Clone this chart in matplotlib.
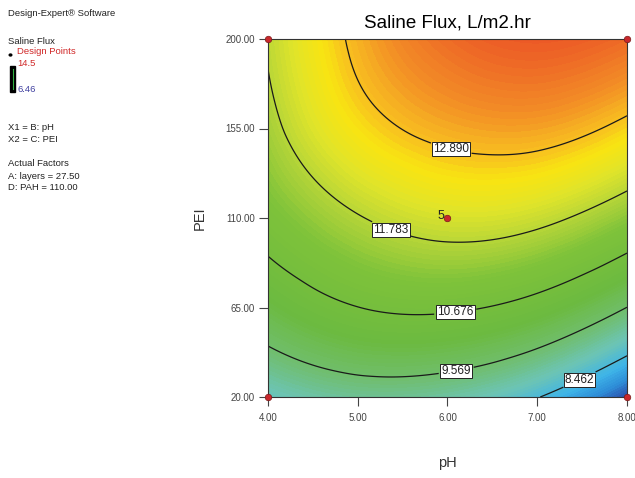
import numpy as np
import matplotlib
matplotlib.use("Agg")
import matplotlib.pyplot as plt
import matplotlib.tri as mtri
from matplotlib.colors import LinearSegmentedColormap, Normalize
from matplotlib.patches import Rectangle, Circle

plt.rcParams['font.family'] = ['Liberation Sans', 'DejaVu Sans']

# Factores (pH y PEI) y respuesta
ph = [4.0, 5.0, 6.0, 7.0, 8.0]
pei = [20.0, 65.0, 110.0, 155.0, 200.0]
# filas = PEI (20 -> 200), columnas = pH (4 -> 8)
flux = [
    [8.784, 9.160, 9.062, 8.490, 7.444],
    [10.087, 10.667, 10.773, 10.405, 9.563],
    [11.030, 11.740, 12.100, 11.960, 11.322],
    [11.580, 12.601, 13.080, 13.155, 12.721],
    [11.836, 13.028, 13.746, 13.990, 13.760],
]
niveles = [8.462, 9.569, 10.676, 11.783, 12.890]
etiquetas = ['8.462', '9.569', '10.676', '11.783', '12.890']
pos_etiquetas = [(7.42, 33.6), (6.08, 37.6), (6.08, 65.3), (5.38, 105.0), (6.05, 146.7)]
rango_color = (6.46, 14.5)

puntos_ph = [4.0, 8.0, 4.0, 8.0, 6.0]
puntos_pei = [20.0, 20.0, 200.0, 200.0, 110.0]

# Colores estilo Design-Expert (azul -> verde -> amarillo -> rojo)
anclas = [
    (6.46, '#141E78'), (7.45, '#2A4AA8'), (7.9, '#2E8ED8'), (8.3, '#3EB4E8'),
    (8.9, '#6CC4B4'), (9.5, '#70BE70'), (10.2, '#6CBA40'), (11.2, '#7EC23A'),
    (11.8, '#B8D638'), (12.2, '#E0E42A'), (12.6, '#F8E412'), (12.9, '#F8C020'),
    (13.4, '#F28A26'), (14.0, '#EC5A26'), (14.5, '#E03A1E'),
]
lo, hi = rango_color
cmap = LinearSegmentedColormap.from_list(
    'dx', [((v - lo) / (hi - lo), c) for v, c in anclas])

# Malla en coordenadas de indice para que la interpolacion sea isotropa
Z = np.array(flux)
U, V = np.meshgrid(np.arange(len(ph)), np.arange(len(pei)))
tri = mtri.Triangulation(U.ravel(), V.ravel())
interp = mtri.CubicTriInterpolator(tri, Z.ravel(), kind='min_E')
refiner = mtri.UniformTriRefiner(tri)
tri_f, z_f = refiner.refine_field(Z.ravel(), triinterpolator=interp, subdiv=5)
dph = ph[1] - ph[0]
dpei = pei[1] - pei[0]
tri_real = mtri.Triangulation(ph[0] + tri_f.x * dph, pei[0] + tri_f.y * dpei, tri_f.triangles)

fig = plt.figure(figsize=(6.35, 4.78), dpi=100)
ax = fig.add_axes([268 / 635, 1 - 397 / 478, 359 / 635, 358 / 478])

ax.tricontourf(tri_real, z_f, levels=np.linspace(lo, hi, 120), cmap=cmap,
               norm=Normalize(lo, hi))
cs = ax.tricontour(tri_real, z_f, levels=niveles, colors='#1a1a1a', linewidths=0.9)
textos = ax.clabel(cs, fmt=dict(zip(niveles, etiquetas)), manual=pos_etiquetas,
                   inline=True, fontsize=8.5, inline_spacing=3)
for t in textos:
    t.set_rotation(0)
    t.set_color('#222222')
    t.set_bbox(dict(facecolor='white', edgecolor='#222222', pad=0.8, linewidth=0.7))

# Puntos de diseno
ax.scatter(puntos_ph, puntos_pei, s=22, color='#C8282C', edgecolor='#7a1a1a',
           linewidth=0.5, zorder=5, clip_on=False)
ax.text(puntos_ph[-1] - 0.04, puntos_pei[-1] + 1, '5', ha='right', va='center',
        fontsize=9, color='#222222')

ax.set_xlim(ph[0], ph[-1])
ax.set_ylim(pei[0], pei[-1])
ax.set_xticks(ph)
ax.set_xticklabels([f'{v:.2f}' for v in ph])
ax.set_yticks(pei)
ax.set_yticklabels([f'{v:.2f}' for v in pei])
ax.tick_params(direction='out', length=6.5, width=0.8, labelsize=7, colors='#444444',
               pad=3)
ax.tick_params(axis='x', pad=5)
for s in ax.spines.values():
    s.set_color('#333333')
    s.set_linewidth(0.8)

ax.set_title('Saline Flux, L/m2.hr', fontsize=13.5, pad=8)
ax.set_xlabel('pH', fontsize=10.5, color='#333333')
ax.set_ylabel('PEI', fontsize=10.5, color='#333333')
ax.xaxis.set_label_coords(0.5, -0.165)
ax.yaxis.set_label_coords(-0.17, 0.5)

# Panel de informacion a la izquierda
def texto(x, y, s, color='#222222'):
    fig.text(x / 635, 1 - y / 478, s, fontsize=6.8, color=color, va='center', ha='left')

texto(8, 13, 'Design-Expert® Software')
texto(8, 41, 'Saline Flux')
texto(17, 52, 'Design Points', color='#D02828')
texto(17, 64, '14.5', color='#D02828')
texto(17, 89, '6.46', color='#4040A0')
texto(8, 128, 'X1 = B: pH')
texto(8, 140, 'X2 = C: PEI')
texto(8, 164, 'Actual Factors')
texto(8, 176, 'A: layers = 27.50')
texto(8, 188, 'D: PAH = 110.00')
fig.patches.append(Rectangle((10 / 635, 1 - 92 / 478), 5 / 635, 26 / 478,
                             transform=fig.transFigure, facecolor='black',
                             edgecolor='black', figure=fig))
fig.lines.append(plt.Line2D([12.5 / 635, 12.5 / 635], [1 - 89 / 478, 1 - 69 / 478],
                            transform=fig.transFigure, color='#30B040', linewidth=0.8))
fig.patches.append(Circle((10.5 / 635, 1 - 55 / 478), 1.3 / 635,
                          transform=fig.transFigure, color='black'))

fig.savefig('out.png', dpi=100)
